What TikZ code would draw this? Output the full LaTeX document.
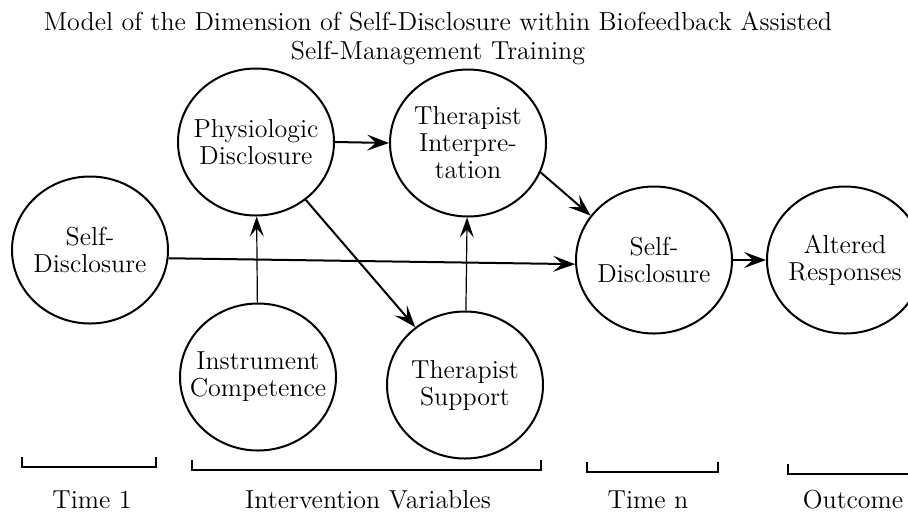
\documentclass[tikz,border=0pt]{standalone}
\usetikzlibrary{arrows.meta,shapes.geometric}
\tikzset{
  stage/.style={draw, ellipse, line width=1pt, minimum width=78pt, minimum height=73.5pt,
    inner sep=-12pt, align=center, font=\fontsize{13}{13.5}\selectfont},
  flow/.style={line width=1pt, -{Stealth[length=11pt,width=8pt,inset=4.5pt]}},
  feed/.style={line width=0.6pt, -{Stealth[length=10pt,width=7pt,inset=4pt]}},
  span/.style={line width=1pt},
  caption/.style={align=center, font=\fontsize{13}{14.5}\selectfont}
}
\begin{document}
\begin{tikzpicture}[x=0.5pt, y=-0.5pt]
		%%%%% START %%%%%
		\useasboundingbox (0, 0) rectangle (908, 521);
		
		\node[caption] (title) at (438, 38) {Model of the Dimension of Self-Disclosure within Biofeedback Assisted\\Self-Management Training};
		
		\node[stage] (sd1) at (90, 250) {Self-\\Disclosure};
		\node[stage] (pd) at (256, 142) {Physiologic\\Disclosure};
		\node[stage] (ti) at (468, 143) {Therapist\\Interpre-\\tation};
		\node[stage] (ic) at (258, 377) {Instrument\\Competence};
		\node[stage] (ts) at (465, 385) {Therapist\\Support};
		\node[stage] (sd2) at (654, 260) {Self-\\Disclosure};
		\node[stage] (ar) at (845, 260) {Altered\\Responses};
		
		\draw[flow] (sd1.-6) -- (sd2.183);
		\draw[flow] (pd.east) -- (ti.west);
		\draw[flow] (pd) -- (ts);
		\draw[feed] (ic) -- (pd);
		\draw[feed] (ts) -- (ti);
		\draw[flow] (ti.-22) -- (sd2.145);
		\draw[flow] (sd2.east) -- (ar.west);
		
		% brackets under the columns
		\draw[span] (22, 457) -- (22, 467) -- (156, 467) -- (156, 457);
		\draw[span] (192, 460) -- (192, 470) -- (541, 470) -- (541, 460);
		\draw[span] (587, 462) -- (587, 472) -- (718, 472) -- (718, 462);
		\draw[span] (788, 464) -- (788, 474) -- (912, 474);
		
		\node[caption] (time1) at (92, 500) {Time 1};
		\node[caption] (interv) at (368, 500) {Intervention Variables};
		\node[caption] (timen) at (648, 500) {Time n};
		\node[caption] (outcome) at (853, 500) {Outcome};
		%%%%% END %%%%%
	\end{tikzpicture}
\end{document}
